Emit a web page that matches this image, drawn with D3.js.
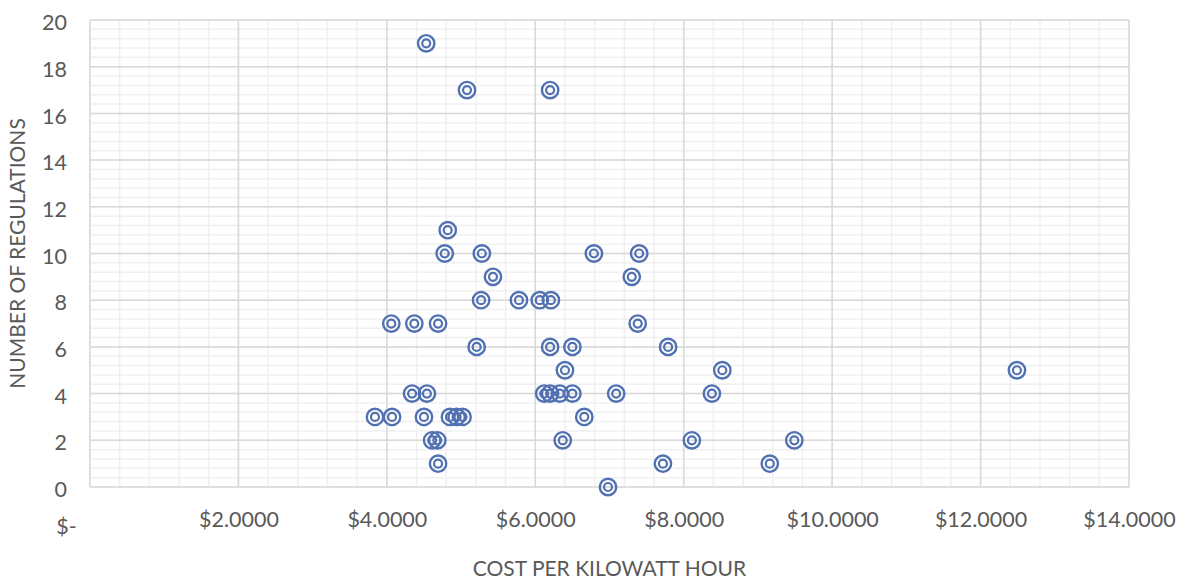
<!DOCTYPE html>
<html>
<head>
<meta charset="utf-8">
<script src="https://cdn.jsdelivr.net/npm/d3@7"></script>
<style>
  html, body { margin: 0; padding: 0; background: #ffffff; }
  svg { display: block; }
  text { font-family: Lato, "Open Sans", sans-serif; fill: #595959; }
</style>
</head>
<body>
<svg id="chart" width="1177" height="579"></svg>
<script>
// Cost per kilowatt hour (USD) for each observation
const costPerKwh = [
  4.53, 5.08, 6.20,
  4.82,
  4.78, 5.28, 6.79, 7.40,
  5.43, 7.30,
  5.27, 5.78, 6.06, 6.21,
  4.06, 4.37, 4.69, 7.38,
  5.21, 6.20, 6.50, 7.79,
  6.40, 8.52, 12.49,
  4.34, 4.54, 6.12, 6.20, 6.33, 6.50, 7.09, 8.38,
  3.84, 4.07, 4.50, 4.85, 4.94, 5.02, 6.66,
  4.61, 4.68, 6.37, 8.11, 9.49,
  4.69, 7.72, 9.16,
  6.98
];
// Number of regulations for the same observations
const regulationCount = [
  19, 17, 17,
  11,
  10, 10, 10, 10,
  9, 9,
  8, 8, 8, 8,
  7, 7, 7, 7,
  6, 6, 6, 6,
  5, 5, 5,
  4, 4, 4, 4, 4, 4, 4, 4,
  3, 3, 3, 3, 3, 3, 3,
  2, 2, 2, 2, 2,
  1, 1, 1,
  0
];

const xTickValues = [0, 2, 4, 6, 8, 10, 12, 14];
const xTickLabels = ["$-", "$2.0000", "$4.0000", "$6.0000", "$8.0000", "$10.0000", "$12.0000", "$14.0000"];
const yTickValues = [0, 2, 4, 6, 8, 10, 12, 14, 16, 18, 20];

const xTitle = "COST PER KILOWATT HOUR";
const yTitle = "NUMBER OF REGULATIONS";

const svg = d3.select("#chart");
const plot = { left: 90, right: 1129, top: 20, bottom: 487 };

const x = d3.scaleLinear().domain([0, 14]).range([plot.left, plot.right]);
const y = d3.scaleLinear().domain([0, 20]).range([plot.bottom, plot.top]);

// Minor gridlines (every 0.4 units on both axes)
const grid = svg.append("g");
const minorX = d3.range(0, 14.0001, 0.4);
const minorY = d3.range(0, 20.0001, 0.4);
grid.selectAll("line.mx").data(minorX).join("line")
  .attr("x1", d => x(d)).attr("x2", d => x(d))
  .attr("y1", plot.top).attr("y2", plot.bottom)
  .attr("stroke", "#f0f0f0").attr("stroke-width", 1.5);
grid.selectAll("line.my").data(minorY).join("line")
  .attr("y1", d => y(d)).attr("y2", d => y(d))
  .attr("x1", plot.left).attr("x2", plot.right)
  .attr("stroke", "#f0f0f0").attr("stroke-width", 1.5);

// Major gridlines
grid.selectAll("line.Mx").data(xTickValues).join("line")
  .attr("x1", d => x(d)).attr("x2", d => x(d))
  .attr("y1", plot.top).attr("y2", plot.bottom)
  .attr("stroke", "#d9d9d9").attr("stroke-width", 1.5);
grid.selectAll("line.My").data(yTickValues).join("line")
  .attr("y1", d => y(d)).attr("y2", d => y(d))
  .attr("x1", plot.left).attr("x2", plot.right)
  .attr("stroke", "#d9d9d9").attr("stroke-width", 1.5);

// Bottom axis
const xAxis = svg.append("g")
  .attr("transform", `translate(0,${plot.bottom})`)
  .call(d3.axisBottom(x).tickValues(xTickValues)
    .tickFormat((d, i) => xTickLabels[i]).tickSize(0).tickPadding(25));
xAxis.select(".domain").remove();
xAxis.selectAll("text")
  .style("font-size", "21.5px").style("fill", "#595959").attr("font-family", null);
// The zero label sits left of and slightly below the others
xAxis.selectAll(".tick").filter(d => d === 0).select("text")
  .attr("x", -24).attr("y", 31.5);

// Left axis
const yAxis = svg.append("g")
  .attr("transform", `translate(${plot.left},0)`)
  .call(d3.axisLeft(y).tickValues(yTickValues).tickSize(0).tickPadding(23));
yAxis.select(".domain").remove();
yAxis.selectAll("text")
  .style("font-size", "21.5px").style("fill", "#595959").attr("font-family", null)
  .attr("dy", "0.45em");

// Axis titles
svg.append("text")
  .attr("x", (plot.left + plot.right) / 2).attr("y", 576)
  .attr("text-anchor", "middle")
  .style("font-size", "21px")
  .text(xTitle);
svg.append("text")
  .attr("transform", `translate(25,${(plot.top + plot.bottom) / 2}) rotate(-90)`)
  .attr("text-anchor", "middle")
  .style("font-size", "21px")
  .text(yTitle);

// Points: double-ring markers
const pts = d3.range(costPerKwh.length).map(i => ({ c: costPerKwh[i], r: regulationCount[i] }));
const markerColor = "#5171b2";
const marks = svg.append("g").selectAll("g").data(pts).join("g")
  .attr("transform", d => `translate(${x(d.c)},${y(d.r)})`);
marks.append("circle").attr("r", 8.2)
  .attr("fill", "none").attr("stroke", markerColor).attr("stroke-width", 2.4);
marks.append("circle").attr("r", 4.0)
  .attr("fill", "none").attr("stroke", markerColor).attr("stroke-width", 2.2);
</script>
</body>
</html>
